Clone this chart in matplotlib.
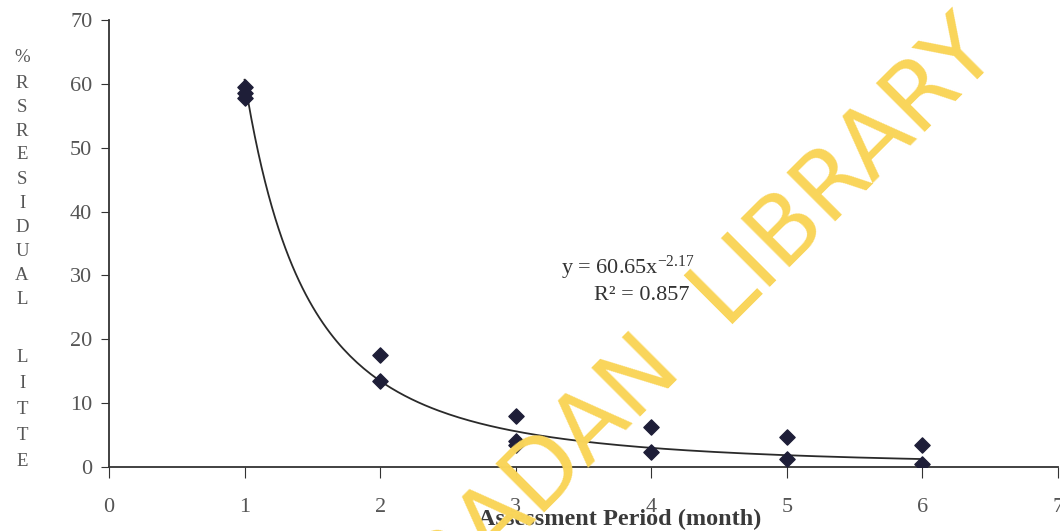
import numpy as np
import matplotlib
matplotlib.use("Agg")
import matplotlib.pyplot as plt

# observed % residual litter per assessment month
months = [1, 1, 1, 2, 2, 3, 3, 3, 4, 4, 5, 5, 6, 6]
residual = [59.5, 58.6, 57.8, 17.6, 13.4, 8.0, 4.0, 3.4, 6.3, 2.4, 4.7, 1.3, 3.5, 0.4]

# power trendline reported on the chart
coef_a = 60.65
coef_b = -2.17
r_squared = 0.857

y_ticks = [0, 10, 20, 30, 40, 50, 60, 70]
x_ticks = [0, 1, 2, 3, 4, 5, 6, 7]
ylabel_top = list("RSRESIDUAL")
ylabel_bottom = list("LITTE")

plt.rcParams["font.family"] = ["Liberation Serif", "DejaVu Serif"]
plt.rcParams["mathtext.fontset"] = "custom"
plt.rcParams["mathtext.rm"] = "Liberation Serif"
plt.rcParams["mathtext.it"] = "Liberation Serif:italic"

W, H = 1060, 531
fig = plt.figure(figsize=(W / 100, H / 100), dpi=100)
ax = fig.add_axes([109 / W, 1 - 467 / H, (1058 - 109) / W, (467 - 20) / H])

ax.scatter(months, residual, marker="D", s=60, color="#1e1e38", zorder=3)

xs = np.linspace(1, 6, 200)
ax.plot(xs, coef_a * xs ** coef_b, color="#2a2a2a", lw=1.3, zorder=2)

ax.set_xlim(0, 7)
ax.set_ylim(0, 70)
ax.set_xticks(x_ticks)
ax.set_yticks(y_ticks)
ax.spines["top"].set_visible(False)
ax.spines["right"].set_visible(False)
for sp in ("left", "bottom"):
    ax.spines[sp].set_color("#333333")
    ax.spines[sp].set_linewidth(1.3)
ax.tick_params(axis="y", direction="out", length=6, pad=6, labelsize=16,
               labelcolor="#555555", color="#333333")
ax.tick_params(axis="x", direction="out", length=8, pad=14, labelsize=16,
               labelcolor="#555555", color="#333333")

ax.text(3.83, 31.2, "y = 60.65x$^{\\mathregular{-2.17}}$", ha="center", va="center",
        fontsize=16, color="#333333")
ax.text(3.93, 26.8, "R² = %.3f" % r_squared, ha="center", va="center",
        fontsize=16, color="#333333")

fig.text(620 / W, 1 - 519 / H, "Assessment Period (month)", ha="center",
         va="center", fontsize=17.5, fontweight="bold", color="#3a3a3a")

# stacked vertical y label
fig.text(22 / W, 1 - 58 / H, "%", ha="center", va="center",
         fontsize=13.5, color="#555555")
for i, ch in enumerate(ylabel_top):
    fig.text(22 / W, 1 - (83 + 24 * i) / H, ch, ha="center", va="center",
             fontsize=13.5, color="#555555")
for i, ch in enumerate(ylabel_bottom):
    fig.text(22 / W, 1 - (357 + 26 * i) / H, ch, ha="center", va="center",
             fontsize=13.5, color="#555555")

# library watermark
fig.text(1002 / W, 1 - 55 / H, "IBADAN  LIBRARY", rotation=45,
         rotation_mode="anchor", ha="right", va="baseline", fontsize=68,
         color="#f9d55a", family="DejaVu Sans", zorder=10)

fig.savefig("out.png", dpi=100)
